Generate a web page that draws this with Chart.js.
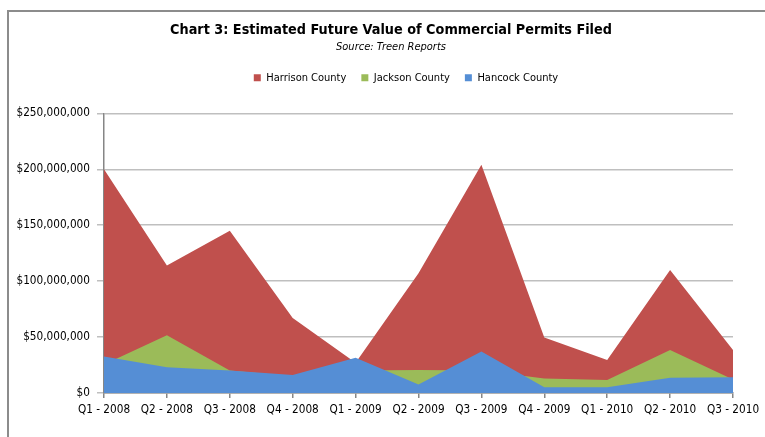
<!DOCTYPE html>
<html>
<head>
<meta charset="utf-8">
<script src="https://cdn.jsdelivr.net/npm/chart.js@4/dist/chart.umd.min.js"></script>
<style>
  html, body { margin: 0; padding: 0; background: #fff; overflow: hidden; width: 765px; height: 437px; }
  .edge { position: absolute; background: #8c8c8c; }
  #edgeTop { left: 7px; top: 10px; width: 758px; height: 1.5px; }
  #edgeLeft { left: 7px; top: 10px; width: 1.5px; height: 427px; }
  #wrap { position: absolute; left: 0; top: 0; width: 765px; height: 437px; }
</style>
</head>
<body>
<div class="edge" id="edgeTop"></div>
<div class="edge" id="edgeLeft"></div>
<div id="wrap"><canvas id="permitsChart" width="765" height="437"></canvas></div>
<script>
var quarters = ['Q1 - 2008', 'Q2 - 2008', 'Q3 - 2008', 'Q4 - 2008', 'Q1 - 2009', 'Q2 - 2009',
                'Q3 - 2009', 'Q4 - 2009', 'Q1 - 2010', 'Q2 - 2010', 'Q3 - 2010'];
var harrison = [200000000, 114000000, 145000000, 67000000, 27000000, 107000000,
                204000000, 49500000, 29500000, 110000000, 38500000];
var jackson  = [25500000, 51500000, 20000000, 15000000, 20000000, 20500000,
                20000000, 13000000, 11500000, 38500000, 12000000];
var hancock  = [32500000, 23000000, 20000000, 16000000, 31500000, 7500000,
                37000000, 5000000, 5000000, 13500000, 14000000];

var font = '"DejaVu Sans Condensed", "DejaVu Sans", sans-serif';
var gridColor = '#bfbfbf';
var axisColor = '#868686';

function areaSet(label, values, color) {
    return {
        label: label,
        data: values,
        backgroundColor: color,
        borderColor: color,
        borderWidth: 0,
        pointRadius: 0,
        tension: 0,
        fill: 'origin'
    };
}

// empty band under the legend; headings centred on the whole frame, legend a bit further right
var headerTweak = {
    id: 'headerTweak',
    afterInit: function (chart) {
        var fit = chart.legend.fit;
        chart.legend.fit = function () {
            fit.call(this);
            this.height += 20;
        };
    },
    afterLayout: function (chart) {
        chart.boxes.forEach(function (box) {
            if (box.position !== 'top') return;
            if (box === chart.legend) {
                box.left += 79;
                box.adjustHitBoxes();
            } else {
                box.left += 49;
            }
        });
    }
};

var ctx = document.getElementById('permitsChart').getContext('2d');
// first dataset is painted last, so Hancock goes first to sit in front
var chart = new Chart(ctx, {
    type: 'line',
    data: {
        labels: quarters,
        datasets: [
            areaSet('Hancock County', hancock, '#558ed5'),
            areaSet('Jackson County', jackson, '#9bbb59'),
            areaSet('Harrison County', harrison, '#c0504d')
        ]
    },
    plugins: [headerTweak],
    options: {
        responsive: false,
        animation: false,
        layout: { padding: { left: 0, right: 32, top: 0, bottom: 15 } },
        plugins: {
            title: {
                display: true,
                text: 'Chart 3: Estimated Future Value of Commercial Permits Filed',
                color: '#000',
                font: { family: font, size: 14.3, weight: 'bold' },
                padding: { top: 22, bottom: 0 }
            },
            subtitle: {
                display: true,
                text: 'Source: Treen Reports',
                color: '#000',
                font: { family: font, size: 11, style: 'italic' },
                padding: { top: 1, bottom: 4 }
            },
            legend: {
                display: true,
                reverse: true,
                labels: {
                    boxWidth: 7,
                    boxHeight: 7,
                    padding: 15,
                    color: '#000',
                    font: { family: font, size: 11 }
                }
            },
            tooltip: { enabled: false }
        },
        scales: {
            x: {
                offset: false,
                grid: { drawOnChartArea: false, drawTicks: true, tickLength: 5, color: axisColor, lineWidth: 1.5 },
                border: { color: axisColor, width: 1.5 },
                ticks: { color: '#000', font: { family: font, size: 11.7 }, maxRotation: 0, autoSkip: false, padding: 5 }
            },
            y: {
                min: 0,
                max: 250000000,
                afterFit: function (scale) { scale.width = 104; },
                grid: { color: gridColor, lineWidth: 1.5, tickLength: 7, drawTicks: true },
                border: { color: axisColor, width: 1.5 },
                ticks: {
                    stepSize: 50000000,
                    color: '#000',
                    padding: 7,
                    font: { family: font, size: 11.7 },
                    callback: function (v) { return '$' + v.toLocaleString('en-US'); }
                }
            }
        }
    }
});
</script>
</body>
</html>
